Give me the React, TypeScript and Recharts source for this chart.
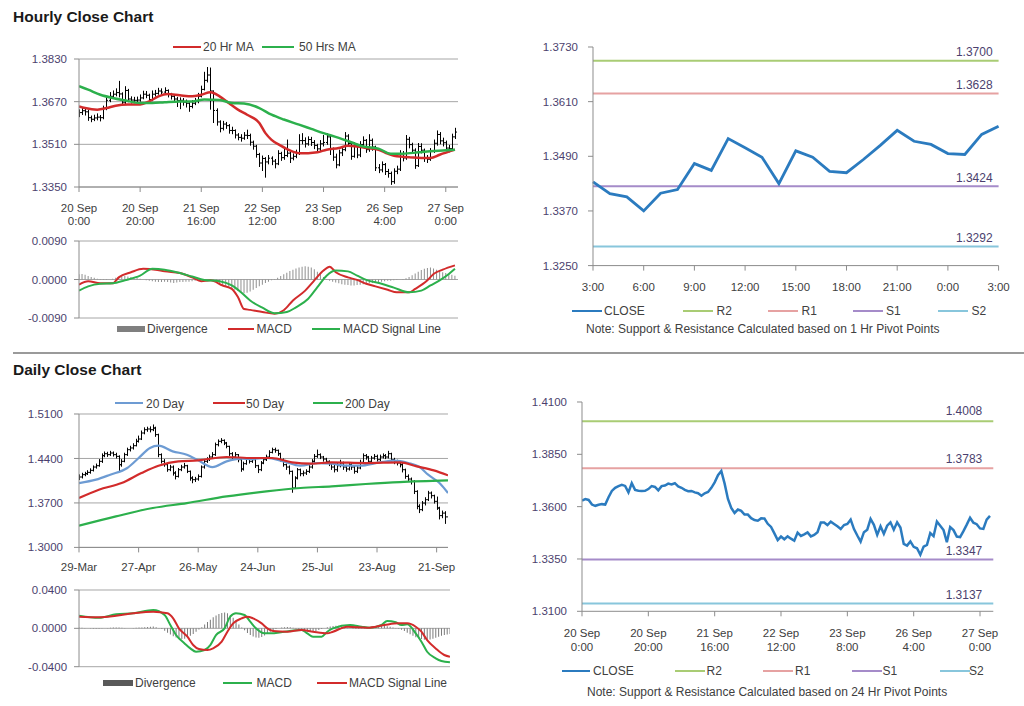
import React from "react";
import { ComposedChart, Line, Bar, XAxis, YAxis, CartesianGrid, ReferenceLine } from "recharts";

const FONT = "'Liberation Sans', Arial, sans-serif";
const AXIS = "#8c8c8c";
const GRID = "#a6a6a6";
const YTXT = "#4b3f6e";
const XTXT = "#404040";
const RED = "#d22b2b";
const GREEN = "#2cb04c";
const SKY = "#6d9bd3";
const CLOSE_BLUE = "#2b7bbf";

// ---- hourly, 20 Sep 0:00 -> 27 Sep 3:00 ----
const hourClose = [
  1.3629, 1.3636, 1.3632, 1.3610, 1.3604, 1.3609, 1.3612, 1.3610, 1.3645, 1.3675,
  1.3690, 1.3698, 1.3704, 1.3699, 1.3668, 1.3712, 1.3680, 1.3676, 1.3675, 1.3676,
  1.3684, 1.3698, 1.3694, 1.3678, 1.3698, 1.3701, 1.3710, 1.3706, 1.3712, 1.3697,
  1.3690, 1.3680, 1.3674, 1.3675, 1.3668, 1.3664, 1.3652, 1.3664, 1.3670, 1.3690,
  1.3716, 1.3750, 1.3770, 1.3710, 1.3637, 1.3594, 1.3570, 1.3586, 1.3580, 1.3562,
  1.3562, 1.3545, 1.3536, 1.3533, 1.3544, 1.3543, 1.3518, 1.3503, 1.3472, 1.3440,
  1.3457, 1.3444, 1.3458, 1.3447, 1.3437, 1.3476, 1.3460, 1.3468, 1.3477, 1.3458,
  1.3465, 1.3478, 1.3524, 1.3524, 1.3512, 1.3528, 1.3517, 1.3506, 1.3493, 1.3512,
  1.3517, 1.3538, 1.3493, 1.3462, 1.3433, 1.3478, 1.3490, 1.3541, 1.3513, 1.3465,
  1.3506, 1.3470, 1.3509, 1.3525, 1.3490, 1.3525, 1.3500, 1.3422, 1.3414, 1.3434,
  1.3408, 1.3401, 1.3370, 1.3409, 1.3417, 1.3474, 1.3459, 1.3529, 1.3509, 1.3488,
  1.3430, 1.3502, 1.3488, 1.3457, 1.3454, 1.3483, 1.3514, 1.3547, 1.3523, 1.3516,
  1.3496, 1.3494, 1.3538, 1.3556,
];
const hourHigh = [
  1.3641, 1.3648, 1.3645, 1.3640, 1.3618, 1.3621, 1.3626, 1.3620, 1.3655, 1.3690,
  1.3706, 1.3712, 1.3720, 1.3748, 1.3705, 1.3728, 1.3718, 1.3690, 1.3688, 1.3689,
  1.3697, 1.3711, 1.3710, 1.3700, 1.3712, 1.3714, 1.3722, 1.3720, 1.3724, 1.3716,
  1.3703, 1.3695, 1.3688, 1.3686, 1.3684, 1.3678, 1.3668, 1.3676, 1.3684, 1.3703,
  1.3730, 1.3782, 1.3800, 1.3798, 1.3712, 1.3645, 1.3600, 1.3598, 1.3594, 1.3586,
  1.3576, 1.3566, 1.3552, 1.3548, 1.3556, 1.3565, 1.3550, 1.3524, 1.3508, 1.3478,
  1.3468, 1.3462, 1.3470, 1.3465, 1.3455, 1.3488, 1.3482, 1.3500, 1.3528, 1.3482,
  1.3476, 1.3490, 1.3548, 1.3552, 1.3536, 1.3540, 1.3538, 1.3526, 1.3512, 1.3526,
  1.3545, 1.3552, 1.3542, 1.3498, 1.3475, 1.3490, 1.3502, 1.3556, 1.3548, 1.3520,
  1.3518, 1.3512, 1.3522, 1.3540, 1.3530, 1.3548, 1.3532, 1.3505, 1.3436, 1.3446,
  1.3440, 1.3418, 1.3408, 1.3420, 1.3430, 1.3488, 1.3485, 1.3545, 1.3538, 1.3516,
  1.3495, 1.3515, 1.3514, 1.3494, 1.3470, 1.3496, 1.3528, 1.3562, 1.3556, 1.3535,
  1.3524, 1.3508, 1.3550, 1.3572,
];
const hourLow = [
  1.3612, 1.3620, 1.3618, 1.3598, 1.3593, 1.3597, 1.3600, 1.3596, 1.3604, 1.3638,
  1.3668, 1.3682, 1.3690, 1.3686, 1.3655, 1.3660, 1.3668, 1.3663, 1.3664, 1.3665,
  1.3670, 1.3679, 1.3683, 1.3668, 1.3672, 1.3689, 1.3696, 1.3695, 1.3700, 1.3686,
  1.3678, 1.3668, 1.3650, 1.3642, 1.3655, 1.3648, 1.3632, 1.3645, 1.3657, 1.3664,
  1.3686, 1.3712, 1.3742, 1.3640, 1.3590, 1.3580, 1.3555, 1.3562, 1.3568, 1.3550,
  1.3548, 1.3532, 1.3525, 1.3520, 1.3527, 1.3530, 1.3505, 1.3490, 1.3460, 1.3425,
  1.3410, 1.3385, 1.3435, 1.3432, 1.3420, 1.3432, 1.3448, 1.3452, 1.3462, 1.3440,
  1.3450, 1.3458, 1.3470, 1.3510, 1.3498, 1.3505, 1.3504, 1.3492, 1.3478, 1.3485,
  1.3502, 1.3508, 1.3470, 1.3448, 1.3420, 1.3428, 1.3466, 1.3484, 1.3500, 1.3452,
  1.3460, 1.3458, 1.3462, 1.3500, 1.3478, 1.3482, 1.3486, 1.3410, 1.3402, 1.3405,
  1.3395, 1.3385, 1.3358, 1.3362, 1.3398, 1.3410, 1.3446, 1.3452, 1.3495, 1.3475,
  1.3418, 1.3425, 1.3476, 1.3444, 1.3440, 1.3448, 1.3478, 1.3505, 1.3510, 1.3502,
  1.3484, 1.3480, 1.3488, 1.3530,
];
const hourTickAt = [0, 20, 40, 60, 80, 100, 120];
const hourTickDay = ["20 Sep", "20 Sep", "21 Sep", "22 Sep", "23 Sep", "26 Sep", "27 Sep"];
const hourTickTime = ["0:00", "20:00", "16:00", "12:00", "8:00", "4:00", "0:00"];

const ma20HrAt = [0, 2, 6, 9, 12, 16, 20, 23, 26, 29, 33, 37, 40, 43, 46, 49, 52, 55, 59, 61, 63, 66, 69, 72, 75, 78, 81, 85, 88, 91, 94, 98, 101, 104, 108, 112, 115, 118, 123];
const ma20Hr = [1.3652, 1.3646, 1.3640, 1.3646, 1.3655, 1.3659, 1.3659, 1.3671, 1.3690, 1.3699, 1.3694, 1.3690, 1.3696, 1.3705, 1.3690, 1.3665, 1.3640, 1.3621, 1.3590, 1.3552, 1.3527, 1.3505, 1.3487, 1.3477, 1.3477, 1.3480, 1.3490, 1.3496, 1.3505, 1.3502, 1.3496, 1.3490, 1.3475, 1.3465, 1.3462, 1.3459, 1.3459, 1.3471, 1.3490];
const ma50HrAt = [0, 3, 7, 11, 15, 20, 24, 28, 33, 37, 41, 46, 50, 54, 59, 63, 67, 72, 76, 80, 85, 89, 93, 98, 102, 106, 111, 115, 119, 123];
const ma50Hr = [1.3728, 1.3715, 1.3696, 1.3684, 1.3675, 1.3665, 1.3665, 1.3668, 1.3671, 1.3671, 1.3678, 1.3676, 1.3665, 1.3663, 1.3646, 1.3621, 1.3603, 1.3584, 1.3568, 1.3552, 1.3534, 1.3518, 1.3502, 1.3494, 1.3475, 1.3475, 1.3480, 1.3484, 1.3487, 1.3490];

const hourMacdAt = [0, 3, 7, 11, 13, 17, 21, 25, 28, 33, 37, 40, 43, 47, 50, 52, 54, 56, 60, 64, 67, 70, 74, 77, 80, 82, 84, 88, 91, 94, 97, 101, 104, 108, 110, 114, 116, 119, 123];
const hourMacd = [-0.0012, -0.0004, -0.0009, -0.0009, 0.0005, 0.0017, 0.0025, 0.0023, 0.0019, 0.0015, 0.0005, -0.0004, -0.0002, -0.0014, -0.0022, -0.0041, -0.0069, -0.0071, -0.0076, -0.0080, -0.0072, -0.0049, -0.0026, -0.0002, 0.0021, 0.0030, 0.0017, 0.0005, -0.0001, -0.0010, -0.0016, -0.0024, -0.0030, -0.0030, -0.0022, -0.0002, 0.0013, 0.0023, 0.0033];
const hourSignalAt = [0, 3, 7, 11, 15, 20, 24, 28, 33, 37, 41, 46, 50, 53, 56, 60, 64, 68, 71, 75, 78, 81, 84, 88, 91, 94, 99, 103, 108, 112, 115, 118, 121, 123];
const hourSignal = [-0.0026, -0.0016, -0.0010, -0.0009, -0.0002, 0.0009, 0.0025, 0.0023, 0.0015, 0.0007, -0.0001, -0.0004, -0.0014, -0.0030, -0.0049, -0.0066, -0.0079, -0.0076, -0.0065, -0.0045, -0.0018, 0.0009, 0.0021, 0.0019, 0.0009, -0.0001, -0.0010, -0.0019, -0.0030, -0.0026, -0.0014, -0.0002, 0.0013, 0.0025];
const hourDivergence = [
  0.0012, 0.0013, 0.0011, 0.0008, 0.0006, 0.0004, 0.0002, 0.0001, -0.0001, -0.0001,
  0.0000, 0.0002, 0.0004, 0.0006, 0.0007, 0.0008, 0.0007, 0.0006, 0.0005, 0.0004,
  0.0002, 0.0000, -0.0002, -0.0003, -0.0004, -0.0005, -0.0006, -0.0006, -0.0005, -0.0006,
  -0.0007, -0.0008, -0.0007, -0.0006, -0.0006, -0.0005, -0.0005, -0.0004, -0.0003, -0.0002,
  -0.0002, -0.0001, 0.0000, -0.0002, -0.0004, -0.0006, -0.0009, -0.0012, -0.0015, -0.0018,
  -0.0021, -0.0024, -0.0027, -0.0030, -0.0032, -0.0031, -0.0028, -0.0024, -0.0020, -0.0016,
  -0.0012, -0.0008, -0.0005, -0.0002, 0.0001, 0.0004, 0.0008, 0.0012, 0.0016, 0.0020,
  0.0023, 0.0026, 0.0028, 0.0030, 0.0031, 0.0030, 0.0028, 0.0024, 0.0018, 0.0012,
  0.0006, 0.0001, -0.0003, -0.0005, -0.0007, -0.0009, -0.0011, -0.0012, -0.0013, -0.0014,
  -0.0014, -0.0013, -0.0012, -0.0011, -0.0010, -0.0009, -0.0008, -0.0007, -0.0006, -0.0005,
  -0.0004, -0.0003, -0.0003, -0.0002, -0.0001, 0.0000, 0.0001, 0.0003, 0.0006, 0.0010,
  0.0014, 0.0018, 0.0022, 0.0025, 0.0027, 0.0028, 0.0026, 0.0023, 0.0020, 0.0017,
  0.0015, 0.0013, 0.0011, 0.0009,
];

// ---- pivots ----
const pivotNames = ["R2", "R1", "S1", "S2"];
const pivotColors = ["#a9cc74", "#e6a2a2", "#a58bc9", "#88c6dc"];
const hourPivots = [1.37, 1.3628, 1.3424, 1.3292];
const dayPivots = [1.4008, 1.3783, 1.3347, 1.3137];
const lastDayStart = 99; // 26 Sep 3:00
const lastDayTickAt = [0, 3, 6, 9, 12, 15, 18, 21, 24];
const lastDayTicks = ["3:00", "6:00", "9:00", "12:00", "15:00", "18:00", "21:00", "0:00", "3:00"];

// ---- daily, 29 Mar -> 27 Sep ----
const dayClose = [
  1.4108, 1.4145, 1.4160, 1.4181, 1.4213, 1.4265, 1.4286, 1.4355, 1.4444, 1.4475,
  1.4460, 1.4486, 1.4460, 1.4433, 1.4302, 1.4355, 1.4460, 1.4538, 1.4565, 1.4601,
  1.4670, 1.4706, 1.4801, 1.4853, 1.4864, 1.4853, 1.4879, 1.4775, 1.4460, 1.4355,
  1.4302, 1.4223, 1.4265, 1.4171, 1.4118, 1.4223, 1.4265, 1.4286, 1.4197, 1.4092,
  1.4066, 1.4076, 1.4118, 1.4265, 1.4355, 1.4381, 1.4423, 1.4460, 1.4617, 1.4670,
  1.4685, 1.4643, 1.4591, 1.4475, 1.4423, 1.4460, 1.4381, 1.4234, 1.4318, 1.4391,
  1.4355, 1.4381, 1.4286, 1.4223, 1.4328, 1.4381, 1.4423, 1.4496, 1.4538, 1.4528,
  1.4475, 1.4381, 1.4302, 1.4265, 1.4197, 1.3935, 1.4092, 1.4223, 1.4160, 1.4171,
  1.4197, 1.4265, 1.4355, 1.4433, 1.4460, 1.4423, 1.4391, 1.4355, 1.4318, 1.4265,
  1.4223, 1.4286, 1.4328, 1.4265, 1.4234, 1.4302, 1.4265, 1.4197, 1.4250, 1.4339,
  1.4444, 1.4423, 1.4355, 1.4407, 1.4433, 1.4381, 1.4423, 1.4444, 1.4423, 1.4475,
  1.4381, 1.4355, 1.4328, 1.4302, 1.4223, 1.4118, 1.4076, 1.4040, 1.3882, 1.3646,
  1.3594, 1.3698, 1.3751, 1.3856, 1.3814, 1.3725, 1.3620, 1.3500, 1.3540, 1.3480,
  1.3556,
];
const dayHigh = [
  1.4150, 1.4175, 1.4190, 1.4215, 1.4245, 1.4290, 1.4320, 1.4390, 1.4480, 1.4510,
  1.4505, 1.4520, 1.4510, 1.4490, 1.4450, 1.4390, 1.4490, 1.4570, 1.4600, 1.4640,
  1.4710, 1.4760, 1.4840, 1.4890, 1.4900, 1.4905, 1.4935, 1.4900, 1.4790, 1.4480,
  1.4390, 1.4330, 1.4300, 1.4290, 1.4200, 1.4250, 1.4300, 1.4330, 1.4300, 1.4210,
  1.4120, 1.4110, 1.4150, 1.4290, 1.4390, 1.4420, 1.4460, 1.4500, 1.4650, 1.4700,
  1.4720, 1.4700, 1.4660, 1.4600, 1.4500, 1.4500, 1.4470, 1.4400, 1.4350, 1.4420,
  1.4410, 1.4410, 1.4390, 1.4300, 1.4360, 1.4410, 1.4460, 1.4530, 1.4570, 1.4570,
  1.4540, 1.4490, 1.4400, 1.4320, 1.4290, 1.4210, 1.4120, 1.4250, 1.4240, 1.4210,
  1.4230, 1.4300, 1.4390, 1.4470, 1.4540, 1.4480, 1.4440, 1.4410, 1.4370, 1.4340,
  1.4300, 1.4330, 1.4380, 1.4350, 1.4300, 1.4340, 1.4330, 1.4290, 1.4290, 1.4380,
  1.4480, 1.4470, 1.4440, 1.4440, 1.4470, 1.4460, 1.4460, 1.4480, 1.4470, 1.4520,
  1.4490, 1.4410, 1.4380, 1.4360, 1.4330, 1.4240, 1.4150, 1.4100, 1.4060, 1.3900,
  1.3680, 1.3730, 1.3790, 1.3890, 1.3880, 1.3830, 1.3800, 1.3640, 1.3580, 1.3570,
  1.3590,
];
const dayLow = [
  1.4060, 1.4085, 1.4120, 1.4140, 1.4160, 1.4195, 1.4240, 1.4270, 1.4330, 1.4420,
  1.4425, 1.4440, 1.4430, 1.4400, 1.4200, 1.4270, 1.4340, 1.4440, 1.4510, 1.4540,
  1.4590, 1.4650, 1.4690, 1.4780, 1.4820, 1.4810, 1.4830, 1.4740, 1.4420, 1.4320,
  1.4270, 1.4190, 1.4200, 1.4130, 1.4070, 1.4100, 1.4200, 1.4240, 1.4170, 1.4050,
  1.4010, 1.4030, 1.4050, 1.4100, 1.4240, 1.4330, 1.4360, 1.4400, 1.4440, 1.4590,
  1.4640, 1.4610, 1.4560, 1.4440, 1.4390, 1.4400, 1.4340, 1.4190, 1.4210, 1.4300,
  1.4320, 1.4330, 1.4250, 1.4170, 1.4200, 1.4310, 1.4360, 1.4410, 1.4480, 1.4490,
  1.4440, 1.4350, 1.4270, 1.4220, 1.4150, 1.3860, 1.3920, 1.4070, 1.4120, 1.4120,
  1.4140, 1.4170, 1.4240, 1.4330, 1.4410, 1.4390, 1.4350, 1.4320, 1.4280, 1.4220,
  1.4180, 1.4190, 1.4260, 1.4220, 1.4190, 1.4210, 1.4220, 1.4160, 1.4170, 1.4230,
  1.4320, 1.4380, 1.4320, 1.4330, 1.4380, 1.4350, 1.4360, 1.4400, 1.4390, 1.4400,
  1.4350, 1.4310, 1.4290, 1.4260, 1.4180, 1.4080, 1.4030, 1.3990, 1.3840, 1.3600,
  1.3540, 1.3570, 1.3660, 1.3730, 1.3770, 1.3690, 1.3590, 1.3440, 1.3460, 1.3370,
  1.3440,
];
const dayTickAt = [0, 21, 42, 63, 84, 105, 126];
const dayTicks = ["29-Mar", "27-Apr", "26-May", "24-Jun", "25-Jul", "23-Aug", "21-Sep"];

const ma20DayAt = [0, 6, 11, 17, 21, 25, 28, 33, 38, 42, 47, 52, 57, 61, 66, 72, 78, 84, 89, 94, 99, 106, 111, 116, 120, 123, 127, 130];
const ma20Day = [1.4013, 1.4066, 1.4145, 1.4250, 1.4407, 1.4565, 1.4601, 1.4512, 1.4460, 1.4370, 1.4265, 1.4355, 1.4397, 1.4391, 1.4407, 1.4355, 1.4286, 1.4328, 1.4318, 1.4286, 1.4286, 1.4339, 1.4365, 1.4328, 1.4265, 1.4145, 1.4013, 1.3856];
const ma50DayAt = [0, 7, 15, 22, 28, 35, 42, 52, 61, 68, 75, 82, 89, 101, 113, 119, 125, 130];
const ma50Day = [1.3777, 1.3908, 1.4013, 1.4171, 1.4286, 1.4355, 1.4370, 1.4423, 1.4407, 1.4407, 1.4339, 1.4318, 1.4339, 1.4328, 1.4339, 1.4276, 1.4213, 1.4134];
const ma200DayAt = [0, 13, 26, 38, 52, 66, 78, 89, 101, 113, 130];
const ma200Day = [1.3341, 1.3488, 1.3620, 1.3698, 1.3803, 1.3882, 1.3935, 1.3961, 1.3998, 1.4029, 1.4055];

const dayMacdAt = [0, 7, 13, 19, 26, 30, 32, 34, 37, 39, 41, 44, 46, 48, 51, 53, 55, 58, 60, 62, 65, 67, 72, 78, 80, 82, 85, 87, 89, 95, 99, 102, 106, 108, 111, 113, 115, 118, 120, 122, 125, 127, 130];
const dayMacd = [0.0132, 0.0111, 0.0146, 0.0157, 0.0191, 0.0139, 0.0035, -0.0070, -0.0157, -0.0209, -0.0244, -0.0226, -0.0174, -0.0070, 0.0000, 0.0122, 0.0157, 0.0139, 0.0070, 0.0000, -0.0052, -0.0052, -0.0035, -0.0017, -0.0052, -0.0087, -0.0087, -0.0035, 0.0000, 0.0035, 0.0017, 0.0007, 0.0035, 0.0077, 0.0063, 0.0035, 0.0042, -0.0052, -0.0139, -0.0244, -0.0313, -0.0341, -0.0355];
const daySignalAt = [0, 7, 13, 19, 26, 31, 33, 35, 38, 40, 42, 45, 47, 50, 52, 54, 57, 59, 61, 64, 66, 68, 73, 78, 82, 87, 89, 94, 101, 107, 112, 115, 118, 120, 122, 125, 128, 130];
const daySignal = [0.0122, 0.0115, 0.0132, 0.0157, 0.0174, 0.0157, 0.0104, 0.0000, -0.0087, -0.0174, -0.0216, -0.0226, -0.0209, -0.0139, -0.0035, 0.0052, 0.0104, 0.0122, 0.0104, 0.0052, 0.0000, -0.0028, -0.0035, -0.0017, -0.0035, -0.0052, -0.0035, 0.0017, 0.0007, 0.0035, 0.0052, 0.0052, 0.0017, -0.0035, -0.0122, -0.0209, -0.0278, -0.0296];
const dayDivergence = [
  0.0008, 0.0006, 0.0004, 0.0002, -0.0002, -0.0004, -0.0005, -0.0004, -0.0002, 0.0002,
  0.0004, 0.0006, 0.0008, 0.0010, 0.0009, 0.0006, 0.0003, 0.0001, 0.0002, 0.0004,
  0.0006, 0.0008, 0.0010, 0.0012, 0.0014, 0.0016, 0.0018, 0.0012, 0.0004, -0.0008,
  -0.0025, -0.0045, -0.0065, -0.0082, -0.0095, -0.0105, -0.0112, -0.0108, -0.0095, -0.0078,
  -0.0058, -0.0036, -0.0012, 0.0012, 0.0040, 0.0065, 0.0090, 0.0115, 0.0135, 0.0150,
  0.0160, 0.0165, 0.0158, 0.0140, 0.0110, 0.0075, 0.0040, 0.0010, -0.0020, -0.0048,
  -0.0070, -0.0085, -0.0095, -0.0098, -0.0090, -0.0075, -0.0055, -0.0035, -0.0018, -0.0008,
  0.0000, 0.0008, 0.0012, 0.0015, 0.0012, 0.0005, -0.0005, -0.0015, -0.0025, -0.0030,
  -0.0035, -0.0038, -0.0035, -0.0028, -0.0018, -0.0008, 0.0002, 0.0012, 0.0020, 0.0025,
  0.0028, 0.0026, 0.0022, 0.0015, 0.0008, 0.0002, -0.0004, -0.0008, -0.0006, -0.0002,
  0.0004, 0.0010, 0.0015, 0.0018, 0.0022, 0.0026, 0.0028, 0.0026, 0.0022, 0.0016,
  0.0010, 0.0004, -0.0004, -0.0014, -0.0028, -0.0045, -0.0062, -0.0078, -0.0092, -0.0104,
  -0.0112, -0.0118, -0.0120, -0.0116, -0.0108, -0.0098, -0.0088, -0.0078, -0.0070, -0.0064,
  -0.0058,
];

// ---- helpers ----
const pts = (at: number[], vals: number[]) => at.map((i, k) => ({ i, v: vals[k] }));
const seq = (vals: number[]) => vals.map((v, i) => ({ i, v }));
const ohlc = (close: number[], high: number[], low: number[]) =>
  close.map((c, i) => ({ i, op: i ? close[i - 1] : c, cl: c, hi: high[i], lo: low[i] }));
const tickMap = (at: number[], ...rows: string[][]) =>
  Object.fromEntries(at.map((t, k) => [t, rows.map((r) => r[k])]));

function frame(px: number, py: number, pw: number, ph: number, yw: number, xh: number) {
  const top = 10;
  const right = 14;
  return {
    pos: { position: "absolute" as const, left: px - yw, top: py - top },
    width: yw + pw + right,
    height: top + ph + xh,
    margin: { top, right, bottom: 0, left: 0 },
  };
}

const yProps = (ticks: number[], width: number, gap: number) => ({
  type: "number" as const,
  domain: [ticks[0], ticks[ticks.length - 1]],
  ticks,
  width,
  interval: 0,
  allowDataOverflow: true,
  tickFormatter: (v: number) => v.toFixed(4),
  tick: { fill: YTXT, fontSize: 11.5 },
  tickSize: 5,
  tickMargin: gap - 5,
  axisLine: { stroke: AXIS },
  tickLine: { stroke: AXIS },
});

function StackTick(props: any) {
  const { x, y, payload, labels, first, gap } = props;
  const rows: string[] = labels[payload.value] ?? [];
  return (
    <text x={x} y={y} textAnchor="middle" fill={XTXT} fontSize={11.5}>
      {rows.map((r, n) => (
        <tspan key={n} x={x} y={y + first + n * gap}>
          {r}
        </tspan>
      ))}
    </text>
  );
}

function Ohlc(props: any) {
  const { x, y, width, height, payload } = props;
  if (!payload) return null;
  const top = Math.min(y, y + height);
  const h = Math.abs(height);
  const span = payload.hi - payload.lo || 1;
  const cx = Math.round(x + width / 2) + 0.5;
  const at = (v: number) => top + ((payload.hi - v) / span) * h;
  return (
    <g stroke="#000" strokeWidth={1}>
      <line x1={cx} x2={cx} y1={top} y2={top + h} />
      <line x1={cx - 1.5} x2={cx} y1={at(payload.op)} y2={at(payload.op)} />
      <line x1={cx} x2={cx + 1.5} y1={at(payload.cl)} y2={at(payload.cl)} />
    </g>
  );
}

function PivotTag(props: any) {
  const { viewBox, text, inset, lift } = props;
  if (!viewBox) return null;
  return (
    <text x={viewBox.x + viewBox.width - inset} y={viewBox.y - lift} textAnchor="end" fill={YTXT} fontSize={12}>
      {text}
    </text>
  );
}

type KeyItem = { name: string; color: string; x: number; w: number; tx: number; box?: boolean };
function KeyRow({ y, items }: { y: number; items: KeyItem[] }) {
  return (
    <>
      {items.map((k) => (
        <React.Fragment key={k.name + k.x}>
          <div style={{ position: "absolute", left: k.x, top: y - (k.box ? 3 : 1), width: k.w, height: k.box ? 6 : 2, background: k.color }} />
          <div style={{ position: "absolute", left: k.tx, top: y - 6.7, fontSize: 12, lineHeight: "14px", color: XTXT, whiteSpace: "nowrap" }}>
            {k.name}
          </div>
        </React.Fragment>
      ))}
    </>
  );
}

const pivotKeys = (xs: number[], txs: number[]) =>
  pivotNames.map((name, k) => ({ name, color: pivotColors[k], x: xs[k], w: 30, tx: txs[k] }));

export default function App() {
  const hourBars = ohlc(hourClose, hourHigh, hourLow);
  const dayBars = ohlc(dayClose, dayHigh, dayLow);
  const hourLabels = tickMap(hourTickAt, hourTickDay, hourTickTime);
  const lastDay = seq(hourClose.slice(lastDayStart));

  const tl1 = frame(79, 59, 379, 128, 79, 45);
  const tl2 = frame(79, 240.7, 379, 77, 79, 8);
  const tr = frame(592.7, 46.7, 405.6, 218.6, 70, 32);
  const bl1 = frame(79.3, 414.3, 369, 133.4, 79, 32);
  const bl2 = frame(79, 590, 371, 76.7, 79, 8);
  const br = frame(581.7, 401.7, 411.3, 209.3, 70, 48);

  const hiddenX = (max: number) => (
    <XAxis type="number" dataKey="i" domain={[0, max]} allowDataOverflow ticks={[]} tick={false} tickLine={false} axisLine={false} height={8} />
  );

  return (
    <div style={{ position: "absolute", left: 0, top: 0, width: 1024, height: 706, background: "#fff", fontFamily: FONT, overflow: "hidden" }}>
      <div style={{ position: "absolute", left: 13, top: 7.5, fontSize: 15.5, lineHeight: "18px", fontWeight: "bold", color: "#1a1a1a" }}>Hourly Close Chart</div>
      <div style={{ position: "absolute", left: 13, top: 351.5, width: 1011, height: 2, background: "#9a9a9a" }} />
      <div style={{ position: "absolute", left: 13, top: 361, fontSize: 15.5, lineHeight: "18px", fontWeight: "bold", color: "#1a1a1a" }}>Daily Close Chart</div>

      {/* hourly price + moving averages */}
      <div style={tl1.pos}>
        <ComposedChart width={tl1.width} height={tl1.height} margin={tl1.margin} data={hourBars}>
          <CartesianGrid vertical={false} stroke={GRID} />
          <XAxis
            type="number" dataKey="i" domain={[0, 124]} allowDataOverflow ticks={hourTickAt} interval={0}
            height={45} tickSize={5} tickMargin={0} axisLine={{ stroke: AXIS }} tickLine={{ stroke: AXIS }}
            tick={<StackTick labels={hourLabels} first={20} gap={13} />}
          />
          <YAxis {...yProps([1.335, 1.351, 1.367, 1.383], 79, 12)} />
          <Bar dataKey={(r: any) => [r.lo, r.hi]} barSize={3} shape={<Ohlc />} isAnimationActive={false} />
          <Line data={pts(ma20HrAt, ma20Hr)} dataKey="v" type="monotone" stroke={RED} strokeWidth={2.5} dot={false} activeDot={false} isAnimationActive={false} />
          <Line data={pts(ma50HrAt, ma50Hr)} dataKey="v" type="monotone" stroke={GREEN} strokeWidth={2.5} dot={false} activeDot={false} isAnimationActive={false} />
        </ComposedChart>
      </div>
      <KeyRow y={46.5} items={[
        { name: "20 Hr MA", color: RED, x: 173, w: 28, tx: 203 },
        { name: "50 Hrs MA", color: GREEN, x: 262, w: 32, tx: 299 },
      ]} />

      {/* hourly MACD */}
      <div style={tl2.pos}>
        <ComposedChart width={tl2.width} height={tl2.height} margin={tl2.margin} data={seq(hourDivergence)}>
          <CartesianGrid vertical={false} stroke={GRID} />
          {hiddenX(124)}
          <YAxis {...yProps([-0.009, 0, 0.009], 79, 12)} />
          <Bar dataKey="v" fill="#8f8f8f" barSize={1} isAnimationActive={false} />
          <Line data={pts(hourMacdAt, hourMacd)} dataKey="v" type="monotone" stroke={RED} strokeWidth={2} dot={false} activeDot={false} isAnimationActive={false} />
          <Line data={pts(hourSignalAt, hourSignal)} dataKey="v" type="monotone" stroke={GREEN} strokeWidth={2} dot={false} activeDot={false} isAnimationActive={false} />
        </ComposedChart>
      </div>
      <KeyRow y={329} items={[
        { name: "Divergence", color: "#7f7f7f", x: 117, w: 28, tx: 147, box: true },
        { name: "MACD", color: RED, x: 228, w: 26, tx: 256.5 },
        { name: "MACD Signal Line", color: GREEN, x: 312, w: 28, tx: 343 },
      ]} />

      {/* last 24 hours vs 1 Hr pivots */}
      <div style={tr.pos}>
        <ComposedChart width={tr.width} height={tr.height} margin={tr.margin} data={lastDay}>
          <XAxis
            type="number" dataKey="i" domain={[0, 24]} ticks={lastDayTickAt} interval={0}
            height={32} tickSize={5} tickMargin={0} axisLine={{ stroke: AXIS }} tickLine={{ stroke: AXIS }}
            tick={<StackTick labels={tickMap(lastDayTickAt, lastDayTicks)} first={20.5} gap={0} />}
          />
          <YAxis {...yProps([1.325, 1.337, 1.349, 1.361, 1.373], 70, 15)} />
          {hourPivots.map((p, k) => (
            <ReferenceLine key={pivotNames[k]} y={p} stroke={pivotColors[k]} strokeWidth={2} label={<PivotTag text={p.toFixed(4)} inset={6} lift={4.5} />} />
          ))}
          <Line dataKey="v" type="linear" stroke={CLOSE_BLUE} strokeWidth={2.8} dot={false} activeDot={false} isAnimationActive={false} />
        </ComposedChart>
      </div>
      <KeyRow y={311} items={[{ name: "CLOSE", color: CLOSE_BLUE, x: 572, w: 30, tx: 604 }, ...pivotKeys([683, 768, 853, 938], [716.5, 801.5, 886, 971.5])]} />
      <div style={{ position: "absolute", left: 586, top: 322.3, fontSize: 12, lineHeight: "14px", color: XTXT, whiteSpace: "nowrap" }}>
        Note: Support &amp; Resistance Calculated based on 1 Hr Pivot Points
      </div>

      {/* daily price + moving averages */}
      <div style={bl1.pos}>
        <ComposedChart width={bl1.width} height={bl1.height} margin={bl1.margin} data={dayBars}>
          <CartesianGrid vertical={false} stroke={GRID} />
          <XAxis
            type="number" dataKey="i" domain={[0, 130]} allowDataOverflow ticks={dayTickAt} interval={0}
            height={32} tickSize={5} tickMargin={0} axisLine={{ stroke: AXIS }} tickLine={{ stroke: AXIS }}
            tick={<StackTick labels={tickMap(dayTickAt, dayTicks)} first={18.5} gap={0} />}
          />
          <YAxis {...yProps([1.3, 1.37, 1.44, 1.51], 79, 16)} />
          <Bar dataKey={(r: any) => [r.lo, r.hi]} barSize={3} shape={<Ohlc />} isAnimationActive={false} />
          <Line data={pts(ma20DayAt, ma20Day)} dataKey="v" type="monotone" stroke={SKY} strokeWidth={2.2} dot={false} activeDot={false} isAnimationActive={false} />
          <Line data={pts(ma50DayAt, ma50Day)} dataKey="v" type="monotone" stroke={RED} strokeWidth={2.2} dot={false} activeDot={false} isAnimationActive={false} />
          <Line data={pts(ma200DayAt, ma200Day)} dataKey="v" type="monotone" stroke={GREEN} strokeWidth={2.2} dot={false} activeDot={false} isAnimationActive={false} />
        </ComposedChart>
      </div>
      <KeyRow y={403.3} items={[
        { name: "20 Day", color: SKY, x: 115, w: 28, tx: 146 },
        { name: "50 Day", color: RED, x: 213, w: 32, tx: 246 },
        { name: "200 Day", color: GREEN, x: 313, w: 30, tx: 345 },
      ]} />

      {/* daily MACD */}
      <div style={bl2.pos}>
        <ComposedChart width={bl2.width} height={bl2.height} margin={bl2.margin} data={seq(dayDivergence)}>
          <CartesianGrid vertical={false} stroke={GRID} />
          {hiddenX(130)}
          <YAxis {...yProps([-0.04, 0, 0.04], 79, 12)} />
          <Bar dataKey="v" fill="#7a7a7a" barSize={1} isAnimationActive={false} />
          <Line data={pts(dayMacdAt, dayMacd)} dataKey="v" type="monotone" stroke={GREEN} strokeWidth={2} dot={false} activeDot={false} isAnimationActive={false} />
          <Line data={pts(daySignalAt, daySignal)} dataKey="v" type="monotone" stroke={RED} strokeWidth={2} dot={false} activeDot={false} isAnimationActive={false} />
        </ComposedChart>
      </div>
      <KeyRow y={682.7} items={[
        { name: "Divergence", color: "#595959", x: 103, w: 30, tx: 135, box: true },
        { name: "MACD", color: GREEN, x: 223, w: 29, tx: 256.5 },
        { name: "MACD Signal Line", color: RED, x: 317, w: 30, tx: 349 },
      ]} />

      {/* hourly close vs 24 Hr pivots */}
      <div style={br.pos}>
        <ComposedChart width={br.width} height={br.height} margin={br.margin} data={seq(hourClose)}>
          <XAxis
            type="number" dataKey="i" domain={[0, 124]} allowDataOverflow ticks={hourTickAt} interval={0}
            height={48} tickSize={5} tickMargin={0} axisLine={{ stroke: AXIS }} tickLine={{ stroke: AXIS }}
            tick={<StackTick labels={hourLabels} first={21} gap={14} />}
          />
          <YAxis {...yProps([1.31, 1.335, 1.36, 1.385, 1.41], 70, 15)} />
          {dayPivots.map((p, k) => (
            <ReferenceLine key={pivotNames[k]} y={p} stroke={pivotColors[k]} strokeWidth={2} label={<PivotTag text={p.toFixed(4)} inset={11} lift={k === 0 ? 6.5 : 5} />} />
          ))}
          <Line dataKey="v" type="linear" stroke={CLOSE_BLUE} strokeWidth={2.5} dot={false} activeDot={false} isAnimationActive={false} />
        </ComposedChart>
      </div>
      <KeyRow y={671} items={[{ name: "CLOSE", color: CLOSE_BLUE, x: 562, w: 28, tx: 593 }, ...pivotKeys([675, 763, 852, 940], [706.5, 795, 882.5, 969])]} />
      <div style={{ position: "absolute", left: 587, top: 685.3, fontSize: 12, lineHeight: "14px", color: XTXT, whiteSpace: "nowrap" }}>
        Note: Support &amp; Resistance Calculated based on 24 Hr Pivot Points
      </div>
    </div>
  );
}
